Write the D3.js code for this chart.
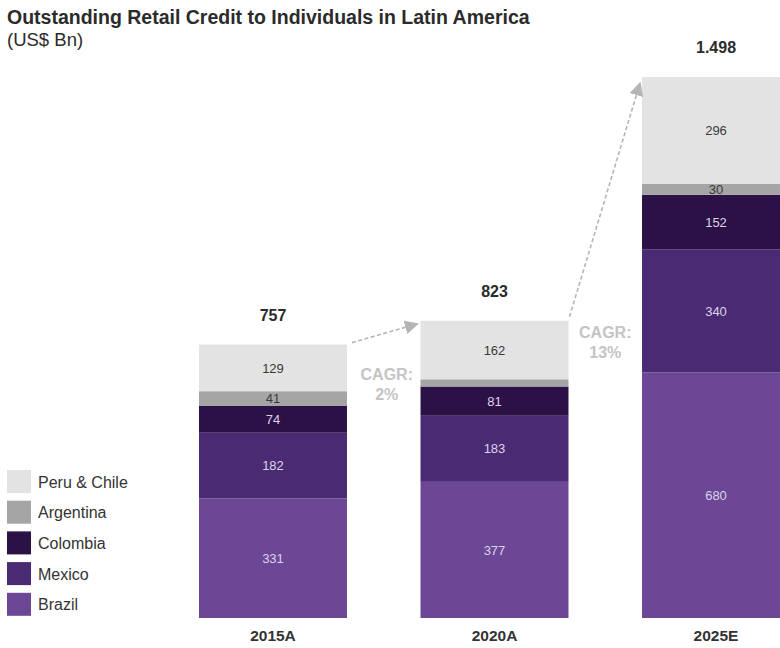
<!DOCTYPE html>
<html>
<head>
<meta charset="utf-8">
<script src="https://cdn.jsdelivr.net/npm/d3@7"></script>
<style>
  html, body { margin: 0; padding: 0; background: #fff; }
  svg { display: block; font-family: "Liberation Sans", Arial, sans-serif; }
</style>
</head>
<body>
<svg id="chart" width="780" height="648"></svg>
<script>
// Outstanding retail credit to individuals, US$ Bn
const years = ["2015A", "2020A", "2025E"];
const countries = ["Brazil", "Mexico", "Colombia", "Argentina", "Peru & Chile"];
const brazil = [331, 377, 680];
const mexico = [182, 183, 340];
const colombia = [74, 81, 152];
const argentina = [41, 20, 30];
const peruChile = [129, 162, 296];
const totalLabels = ["757", "823", "1.498"];
const cagrLabels = [["CAGR:", "2%"], ["CAGR:", "13%"]];
const showValue = [[true, true, true], [true, true, true], [true, true, true], [true, false, true], [true, true, true]];

const seriesValues = [brazil, mexico, colombia, argentina, peruChile];
const colors = ["#6b4796", "#4a2a72", "#2c1146", "#a5a5a5", "#e3e3e3"];
const labelColors = ["#dcd3ea", "#dcd3ea", "#dcd3ea", "#3a3a3a", "#3a3a3a"];

const rows = years.map((y, i) => {
  const r = { year: y };
  countries.forEach((c, k) => { r[c] = seriesValues[k][i]; });
  return r;
});
const stack = d3.stack().keys(countries)(rows);
const totals = rows.map(r => d3.sum(countries, c => r[c]));

const svg = d3.select("#chart");

const x = d3.scaleBand().domain(years).range([199, 790]).paddingInner(0.332).paddingOuter(0);
const y = d3.scaleLinear().domain([0, 1498]).range([618, 77]);

// Title
svg.append("text").attr("x", 7).attr("y", 24)
  .attr("font-size", 19.5).attr("font-weight", "bold").attr("fill", "#2b2b2b")
  .text("Outstanding Retail Credit to Individuals in Latin America");
svg.append("text").attr("x", 7).attr("y", 46)
  .attr("font-size", 18.5).attr("fill", "#2b2b2b")
  .text("(US$ Bn)");

// Stacked bars
const layers = svg.append("g").selectAll("g").data(stack).join("g")
  .attr("fill", (d, i) => colors[i]);
layers.selectAll("rect").data(d => d).join("rect")
  .attr("x", d => x(d.data.year))
  .attr("width", x.bandwidth())
  .attr("y", d => y(d[1]))
  .attr("height", d => y(d[0]) - y(d[1]));

// Segment values
stack.forEach((layer, k) => {
  svg.append("g").selectAll("text").data(layer.filter((d, i) => showValue[k][i])).join("text")
    .attr("x", d => x(d.data.year) + x.bandwidth() / 2)
    .attr("y", d => (y(d[0]) + y(d[1])) / 2)
    .attr("dy", "0.36em")
    .attr("text-anchor", "middle")
    .attr("font-size", 13)
    .attr("fill", labelColors[k])
    .text(d => d[1] - d[0]);
});

// Totals above bars
svg.append("g").selectAll("text").data(years).join("text")
  .attr("x", d => x(d) + x.bandwidth() / 2)
  .attr("y", (d, i) => y(totals[i]) - 24)
  .attr("text-anchor", "middle")
  .attr("font-size", 16).attr("font-weight", "bold").attr("fill", "#2b2b2b")
  .text((d, i) => totalLabels[i]);

// Category axis
const xAxis = svg.append("g").attr("transform", "translate(0,618)")
  .call(d3.axisBottom(x).tickSize(0).tickPadding(12));
xAxis.select(".domain").remove();
xAxis.selectAll("text")
  .attr("font-size", 15.5).attr("font-weight", "bold").attr("fill", "#333")
  .attr("font-family", "'Liberation Sans', Arial, sans-serif");

// CAGR arrows
const defs = svg.append("defs");
defs.append("marker").attr("id", "arrowHead")
  .attr("viewBox", "0 0 10 10").attr("refX", 9).attr("refY", 5)
  .attr("markerWidth", 14).attr("markerHeight", 14).attr("markerUnits", "userSpaceOnUse")
  .attr("orient", "auto")
  .append("path").attr("d", "M0,0 L10,5 L0,10 Z").attr("fill", "#b5b5b5");

const arrows = [
  { x1: x(years[0]) + x.bandwidth() + 5, y1: y(totals[0]) - 2, x2: x(years[1]) - 3, y2: y(totals[1]) + 3 },
  { x1: x(years[1]) + x.bandwidth() + 1, y1: y(totals[1]) - 4, x2: x(years[2]) - 2, y2: y(totals[2]) + 6 }
];
svg.append("g").selectAll("line").data(arrows).join("line")
  .attr("x1", d => d.x1).attr("y1", d => d.y1)
  .attr("x2", d => d.x2).attr("y2", d => d.y2)
  .attr("stroke", "#b5b5b5").attr("stroke-width", 1.6)
  .attr("stroke-dasharray", "4,2.5")
  .attr("marker-end", "url(#arrowHead)");

// CAGR text between bars
cagrLabels.forEach((lines, i) => {
  const cx = (x(years[i]) + x.bandwidth() + x(years[i + 1])) / 2 + (i === 0 ? 3 : 0);
  const base = i === 0 ? y(totals[i]) + 35 : y(totals[i]) + 17;
  lines.forEach((t, j) => {
    svg.append("text").attr("x", cx).attr("y", base + j * 20.5)
      .attr("text-anchor", "middle")
      .attr("font-size", 16).attr("font-weight", "bold").attr("fill", "#c4c4c4")
      .text(t);
  });
});

// Legend (top row is the top of the stack)
const legendOrder = countries.slice().reverse();
const legend = svg.append("g").selectAll("g").data(legendOrder).join("g")
  .attr("transform", (d, i) => `translate(7,${470 + i * 30.7})`);
legend.append("rect").attr("width", 24).attr("height", 23)
  .attr("fill", d => colors[countries.indexOf(d)]);
legend.append("text").attr("x", 31).attr("y", 17.5)
  .attr("font-size", 16).attr("fill", "#333")
  .text(d => d);
</script>
</body>
</html>
